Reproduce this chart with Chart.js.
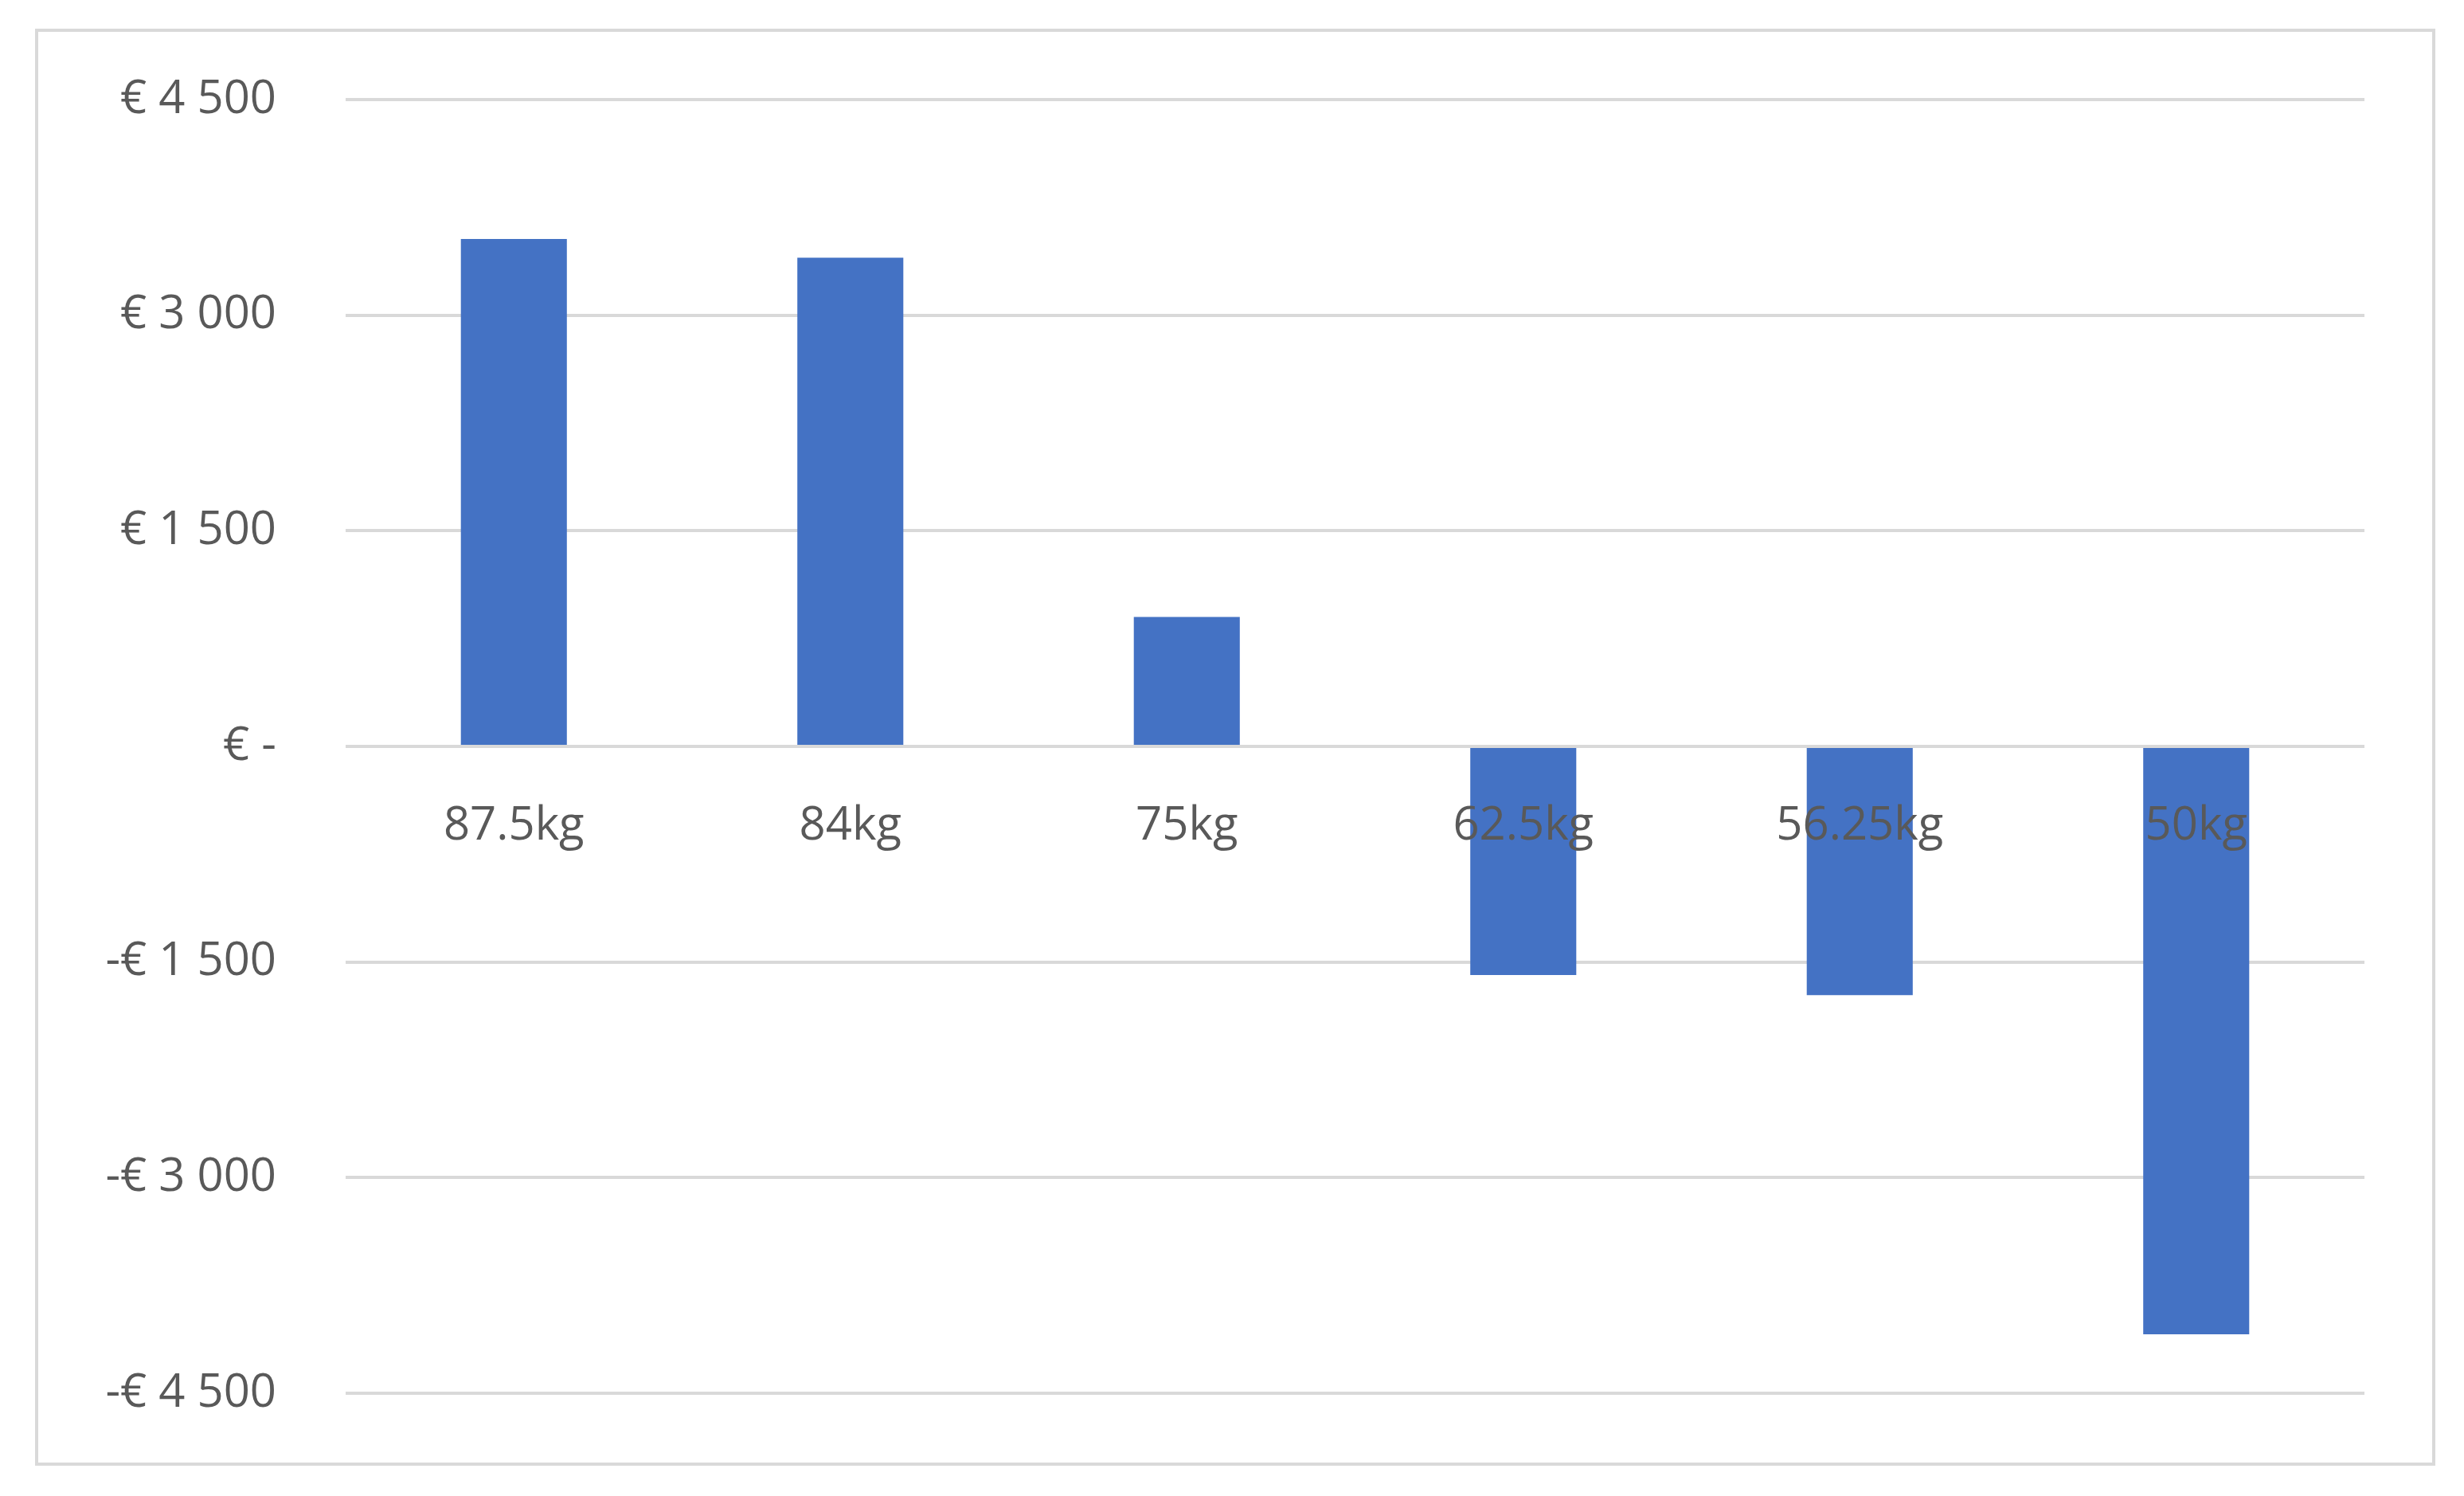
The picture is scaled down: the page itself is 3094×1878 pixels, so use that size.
<!DOCTYPE html>
<html>
<head>
<meta charset="utf-8">
<script src="https://cdn.jsdelivr.net/npm/chart.js@4"></script>
<style>
  html, body { margin: 0; padding: 0; background: #fff; }
  #wrap { position: relative; width: 3094px; height: 1878px; }
  #frame { position: absolute; left: 44px; top: 36px; width: 3014px; height: 1804px; border: 4px solid #d9d9d9; box-sizing: border-box; }
  canvas { position: absolute; left: 0; top: 0; }
</style>
</head>
<body>
<div id="wrap">
  <div id="frame"></div>
  <canvas id="chart" width="3094" height="1878"></canvas>
</div>
<script>
const categories = ['87.5kg', '84kg', '75kg', '62.5kg', '56.25kg', '50kg'];
const values = [3530, 3400, 900, -1590, -1730, -4090];
const tickValues = [-4500, -3000, -1500, 0, 1500, 3000, 4500];

function euro(v) {
  if (v === 0) return '€ -';
  const s = Math.abs(v).toString().replace(/\B(?=(\d{3})+(?!\d))/g, ' ');
  return (v < 0 ? '-€ ' : '€ ') + s;
}

new Chart(document.getElementById('chart'), {
  type: 'bar',
  data: {
    labels: categories,
    datasets: [{
      data: values,
      backgroundColor: '#4472C4',
      barPercentage: 0.315,
      categoryPercentage: 1
    }]
  },
  options: {
    responsive: false,
    animation: false,
    layout: { padding: { left: 0, top: 125, right: 125, bottom: 129 } },
    plugins: { legend: { display: false }, tooltip: { enabled: false } },
    scales: {
      x: {
        position: { y: 0 },
        grid: { display: false },
        border: { display: false },
        ticks: { z: 1, color: '#595959', padding: 58, font: { family: 'Open Sans', size: 58 } }
      },
      y: {
        min: -4500,
        max: 4500,
        afterBuildTicks: axis => { axis.ticks = tickValues.map(v => ({ value: v })); },
        afterFit: axis => { axis.width = 434; },
        grid: { color: '#d9d9d9', lineWidth: 4, drawTicks: false },
        border: { display: false },
        ticks: { color: '#595959', padding: 87, font: { family: 'Open Sans', size: 58 }, callback: v => euro(v) }
      }
    }
  }
});
</script>
</body>
</html>
